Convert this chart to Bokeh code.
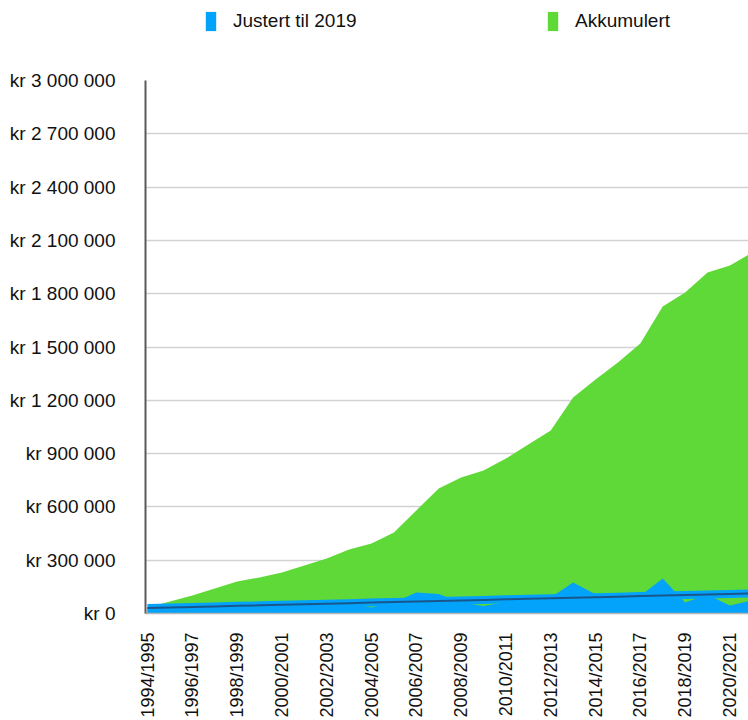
import numpy as np
from bokeh.plotting import figure
from bokeh.layouts import column
from bokeh.models import Range1d, FixedTicker, Legend, LegendItem
from bokeh.embed import file_html
from bokeh.resources import INLINE

seasons = [f"{y}/{y+1}" for y in range(1994, 2022)]
justert = [38000, 37000, 37000, 42000, 41000, 28000, 30000, 42000, 43000, 52000,
           34000, 62000, 118000, 110000, 62000, 42000, 65000, 76000, 90000, 175000,
           108000, 100000, 100000, 197000, 62000, 105000, 45000, 75000]
akkumulert = [34000, 67000, 101000, 141000, 180000, 203000, 231000, 270000, 310000, 360000,
              394000, 456000, 580000, 704000, 765000, 805000, 872000, 951000, 1030000, 1216000,
              1317000, 1413000, 1520000, 1728000, 1807000, 1919000, 1959000, 2032000]
y_ticks = [0, 300000, 600000, 900000, 1200000, 1500000, 1800000, 2100000, 2400000, 2700000, 3000000]
y_labels = ["kr 0", "kr 300 000", "kr 600 000", "kr 900 000", "kr 1 200 000", "kr 1 500 000",
            "kr 1 800 000", "kr 2 100 000", "kr 2 400 000", "kr 2 700 000", "kr 3 000 000"]
series_names = ["Justert til 2019", "Akkumulert"]

x = list(range(len(seasons)))
coef = np.polyfit(x, justert, 1)
trend = np.polyval(coef, x)

FONT = "Liberation Sans"
GREEN = "#5fd937"
BLUE = "#03a2fb"

# ---- legend strip (its frame is aligned with the chart frame below) ----
lf = figure(width=748, height=68, output_backend="svg", toolbar_location=None,
            x_range=Range1d(0, 1), y_range=Range1d(0, 1),
            min_border_left=145, min_border_right=0, min_border_top=0, min_border_bottom=0,
            x_axis_location=None, y_axis_location=None)
lf.outline_line_color = None
lf.grid.grid_line_color = None
# swatch renderers kept outside the visible range; only their legend swatches show
lb = lf.varea(x=[5, 6], y1=[5, 5], y2=[6, 6], fill_color=BLUE)
lgr = lf.varea(x=[5, 6], y1=[5, 5], y2=[6, 6], fill_color=GREEN)

def make_legend(label, rend, loc):
    lg = Legend(items=[LegendItem(label=label, renderers=[rend])], location=loc,
                orientation="horizontal", glyph_width=13, glyph_height=24,
                label_standoff=16, padding=0, margin=0, spacing=0,
                border_line_alpha=0, background_fill_alpha=0,
                label_text_font=FONT, label_text_font_size="19px",
                label_text_color="#111111", label_height=20)
    lf.add_layout(lg, "center")

make_legend(series_names[0], lb, (59, 35))
make_legend(series_names[1], lgr, (401, 35))

# ---- main chart ----
p = figure(width=748, height=652, output_backend="svg", toolbar_location=None,
           x_range=Range1d(-0.09, 26.83), y_range=Range1d(0, 3000000),
           min_border_left=145, min_border_right=0, min_border_top=12, min_border_bottom=107)
p.outline_line_color = None
p.background_fill_color = "white"

g = p.varea(x=x, y1=0, y2=akkumulert, fill_color=GREEN)
b = p.varea(x=x, y1=0, y2=justert, fill_color=BLUE)
p.line(x=x, y=trend, line_color=BLUE, line_width=8)
p.line(x=x, y=trend, line_color="#17578c", line_width=2)

p.yaxis.ticker = FixedTicker(ticks=y_ticks)
p.yaxis.major_label_overrides = {t: l for t, l in zip(y_ticks, y_labels)}
p.yaxis.major_label_text_font = FONT
p.yaxis.major_label_text_font_size = "19px"
p.yaxis.major_label_text_color = "#111111"
p.yaxis.major_label_standoff = 24
p.yaxis.major_tick_line_color = None
p.yaxis.minor_tick_line_color = None
p.yaxis.axis_line_color = "#5a5a5a"
p.yaxis.axis_line_width = 2

xt = list(range(0, len(seasons), 2))
p.xaxis.ticker = FixedTicker(ticks=xt)
p.xaxis.major_label_overrides = {i: seasons[i] for i in xt}
p.xaxis.major_label_orientation = np.pi / 2
p.xaxis.major_label_text_font = FONT
p.xaxis.major_label_text_font_size = "18px"
p.xaxis.major_label_text_color = "#111111"
p.xaxis.major_label_standoff = 13
p.xaxis.major_tick_line_color = None
p.xaxis.minor_tick_line_color = None
p.xaxis.axis_line_color = "#b5b5b5"
p.xaxis.axis_line_width = 1.5

p.xgrid.grid_line_color = None
p.ygrid.ticker = FixedTicker(ticks=y_ticks)
p.ygrid.grid_line_color = "#d2d2d2"
p.ygrid.grid_line_width = 1.5

layout = column(lf, p, spacing=0)
open("out.html", "w").write(file_html(layout, INLINE))
